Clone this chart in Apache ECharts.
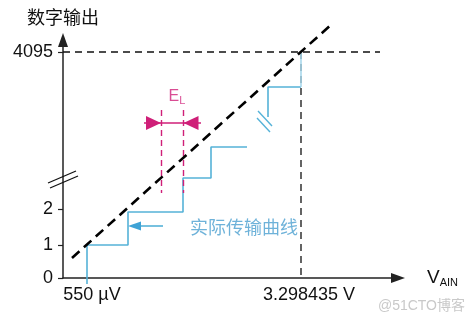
<!DOCTYPE html>
<html>
<head>
<meta charset="utf-8">
<script src="https://cdn.jsdelivr.net/npm/echarts@6/dist/echarts.min.js"></script>
<style>html,body{margin:0;padding:0;background:#fff}#c{width:475px;height:322px}</style>
</head>
<body>
<div id="c"></div>
<script>
// Schematic coordinates (x: input-voltage position, y: output-code position)
const yTickValues = [0, 33, 69, 226];
const yTickLabels = ['0', '1', '2', '4095'];
const xTickValues = [24, 238];
const xTickLabels = ['550 µV', '3.298435 V'];

const idealX = [9, 270];
const idealY = [20, 255];

const stairLowX = [24, 24, 65, 65, 120, 120, 148, 148, 184];
const stairLowY = [-6, 33, 33, 66, 66, 100, 100, 131, 131];
const stairHighX = [205, 205, 238];
const stairHighY = [161, 191, 191];
const stairTopX = [238, 238];
const stairTopY = [191, 226];

const fullScaleX = [0, 317];
const fullScaleY = [226, 226];
const vrefX = [238, 238];
const vrefY = [226, 0];
const leftGuideX = [-22, -22];
const leftGuideY = [203, 85];

const yBreakSegs = [[[-15, 95], [13, 107]], [[-13, 90], [15, 102]]];
const blueBreakSegs = [[[195, 167], [209, 152]], [[194, 160], [207, 146]]];

const elLeftX = 98, elRightX = 120;
const elGuideY = [168, 85];
const elArrowY = 155;
const elShaftX = [81, 138];

const curveArrowX = [72, 100];
const curveArrowY = 52;

const labelEL = [114, 181];
const labelCurve = [127, 51];

const BLUE = '#55b2d8';
const MAG = '#cf1f78';
const FONT = '"Liberation Sans", Arial, "Noto Sans CJK SC", sans-serif';

const zip = (xs, ys) => xs.map((x, i) => [x, ys[i]]);
const lineSeries = (xs, ys, style, z) => ({
  type: 'line', data: zip(xs, ys), showSymbol: false, symbol: 'none',
  clip: false, lineStyle: style, z: z || 3, silent: true, animation: false
});
const segSeries = (segs, style) => ({
  type: 'lines', coordinateSystem: 'cartesian2d', polyline: false, clip: false,
  data: segs.map(s => ({coords: s})), lineStyle: Object.assign({opacity: 1, curveness: 0}, style),
  symbol: 'none', silent: true, animation: false, z: 4
});

const chart = echarts.init(document.getElementById('c'), null, {renderer: 'canvas'});
chart.setOption({
  animation: false,
  grid: {left: 63, right: 77, top: 40, bottom: 44},
  textStyle: {fontFamily: FONT},
  xAxis: {
    type: 'value', min: 0, max: 335,
    splitLine: {show: false},
    axisLine: {show: true, lineStyle: {color: '#222', width: 1.5},
      symbol: ['none', 'triangle'], symbolSize: [10, 14]},
    axisTick: {show: false},
    axisLabel: {
      customValues: xTickValues, color: '#111', fontSize: 18, margin: 8,
      fontFamily: FONT,
      formatter: v => {
        const i = xTickValues.findIndex(t => Math.abs(t - v) < 1e-6);
        return i < 0 ? '' : (i === 0 ? '{a|' + xTickLabels[i] + '}' : '{b|' + xTickLabels[i] + '}');
      },
      rich: {
        a: {fontSize: 18, color: '#111', fontFamily: FONT, padding: [0, 0, 0, 10]},
        b: {fontSize: 18, color: '#111', fontFamily: FONT, padding: [0, 0, 0, 16]}
      }
    },
    name: '{v|V}{s|AIN}', nameLocation: 'end', nameGap: 29,
    nameTextStyle: {
      align: 'left', verticalAlign: 'middle',
      rich: {
        v: {fontSize: 19, color: '#111', fontFamily: FONT},
        s: {fontSize: 11, color: '#111', fontFamily: FONT, padding: [10, 0, 0, 0]}
      }
    }
  },
  yAxis: {
    type: 'value', min: 0, max: 238,
    splitLine: {show: false},
    axisLine: {show: true, lineStyle: {color: '#222', width: 1.5},
      symbol: ['none', 'triangle'], symbolSize: [10, 14]},
    axisTick: {show: true, customValues: yTickValues, length: 5,
      lineStyle: {color: '#222', width: 1.2}},
    axisLabel: {
      customValues: yTickValues, color: '#111', fontSize: 18, margin: 10,
      fontFamily: FONT,
      formatter: v => {
        const i = yTickValues.findIndex(t => Math.abs(t - v) < 1e-6);
        return i < 0 ? '' : yTickLabels[i];
      }
    },
    name: '数字输出', nameLocation: 'end', nameGap: 14,
    nameTextStyle: {fontSize: 18, color: '#111', align: 'center',
      fontFamily: '"Noto Sans CJK SC", sans-serif'}
  },
  graphic: [{
    type: 'text', right: 10, bottom: 9,
    style: {text: '@51CTO博客', fill: '#c9c9c9', fontSize: 14,
      fontFamily: '"Liberation Sans", "Noto Sans CJK SC", sans-serif'}
  }],
  series: [
    lineSeries(fullScaleX, fullScaleY, {color: '#111', width: 1.3, type: [7, 5]}, 2),
    lineSeries(vrefX, vrefY, {color: '#111', width: 1.3, type: [7, 5]}, 2),
    lineSeries(leftGuideX, leftGuideY, {color: '#111', width: 1.3, type: [7, 5]}, 2),
    lineSeries(stairLowX, stairLowY, {color: BLUE, width: 1.6}, 3),
    lineSeries(stairHighX, stairHighY, {color: BLUE, width: 1.6}, 3),
    lineSeries(stairTopX, stairTopY, {color: '#a8d8ec', width: 1.6}, 3),
    lineSeries(idealX, idealY, {color: '#000', width: 2.6, type: [10, 6]}, 6),
    segSeries(yBreakSegs, {color: '#111', width: 1.3}),
    segSeries(blueBreakSegs, {color: BLUE, width: 1.4}),
    segSeries([[[elLeftX, elGuideY[0]], [elLeftX, elGuideY[1]]],
               [[elRightX, elGuideY[0]], [elRightX, elGuideY[1]]]],
      {color: MAG, width: 1.4, type: [6, 4]}),
    segSeries([[[elShaftX[0], elArrowY], [elShaftX[1], elArrowY]]], {color: MAG, width: 1.5}),
    segSeries([[[curveArrowX[0], curveArrowY], [curveArrowX[1], curveArrowY]]], {color: BLUE, width: 1.6}),
    {
      type: 'scatter', clip: false, silent: true, animation: false, z: 7,
      data: [
        {value: [elLeftX - 7.5, elArrowY], symbol: 'triangle', symbolSize: [14, 15], symbolRotate: -90, itemStyle: {color: MAG, opacity: 1}},
        {value: [elRightX + 8, elArrowY], symbol: 'triangle', symbolSize: [14, 15], symbolRotate: 90, itemStyle: {color: MAG, opacity: 1}},
        {value: [curveArrowX[0] - 0.5, curveArrowY], symbol: 'triangle', symbolSize: [9, 13], symbolRotate: 90, itemStyle: {color: '#3fa3d6', opacity: 1}}
      ]
    },
    {
      type: 'scatter', clip: false, silent: true, animation: false, z: 8,
      symbolSize: 0,
      data: [
        {value: labelEL, label: {show: true, position: 'inside',
          formatter: '{e|E}{l|L}',
          rich: {
            e: {fontSize: 16, color: MAG, fontFamily: FONT},
            l: {fontSize: 11, color: MAG, fontFamily: FONT, padding: [8, 0, 0, 0]}
          }}},
        {value: labelCurve, label: {show: true, position: 'right', distance: 0,
          formatter: '实际传输曲线', fontSize: 18, color: '#4a9fd0',
          fontFamily: '"Noto Sans CJK SC", sans-serif'}}
      ]
    }
  ]
});
</script>
</body>
</html>
